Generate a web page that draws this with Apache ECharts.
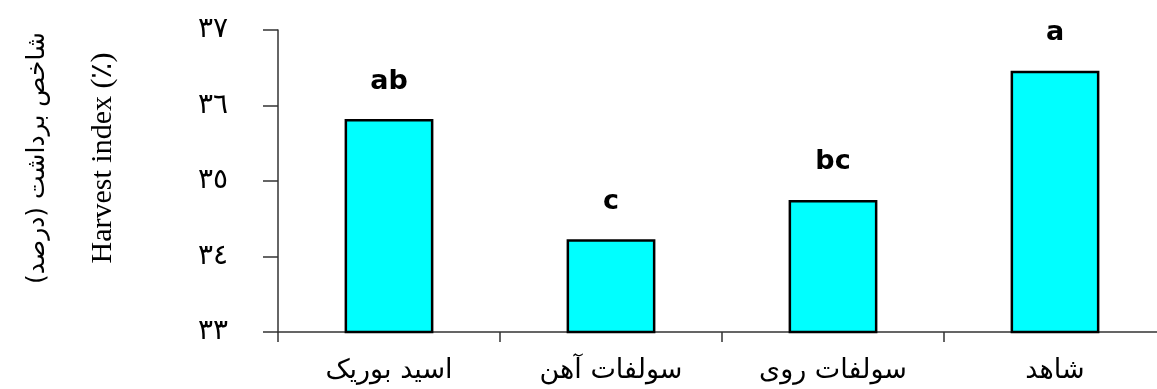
<!DOCTYPE html>
<html>
<head>
<meta charset="utf-8">
<script src="https://cdn.jsdelivr.net/npm/echarts@6/dist/echarts.min.js"></script>
<style>
  html, body { margin: 0; padding: 0; background: #fff; }
  #chart { width: 1157px; height: 389px; }
</style>
</head>
<body>
<div id="chart"></div>
<script>
// Treatments along the x axis
const categories = ['اسید بوریک', 'سولفات آهن', 'سولفات روی', 'شاهد'];
// Harvest index (%) per treatment
const harvestIndex = [35.82, 34.23, 34.75, 36.46];
// Mean-comparison letters shown above each bar
const groupLetters = ['ab', 'c', 'bc', 'a'];
// Value axis range
const yMin = 33, yMax = 37, yStep = 1;

const arabicDigits = '٠١٢٣٤٥٦٧٨٩';
const toArabic = v => String(v).replace(/\d/g, d => arabicDigits[d]);

const chart = echarts.init(document.getElementById('chart'), null, { renderer: 'canvas' });
chart.setOption({
  backgroundColor: '#ffffff',
  animation: false,
  // the plot runs past the right edge of the canvas, so the last category is cut short
  grid: { left: 278, top: 30, bottom: 57, width: 888, outerBoundsMode: 'none', containLabel: false },
  xAxis: {
    type: 'category',
    data: categories,
    axisLine: { lineStyle: { color: '#333', width: 1.5 } },
    axisTick: { show: true, length: 10, lineStyle: { color: '#333', width: 1.5 } },
    axisLabel: {
      color: '#000', fontFamily: 'DejaVu Sans', fontSize: 27, margin: 25
    }
  },
  yAxis: [
    {
      type: 'value', min: yMin, max: yMax, interval: yStep,
      name: 'Harvest index (٪)',
      nameLocation: 'middle', nameRotate: 90, nameGap: 160,
      nameTextStyle: {
        color: '#000', fontFamily: 'Liberation Serif', fontSize: 30,
        padding: [0, 0, 0, 46]
      },
      axisLine: { show: true, lineStyle: { color: '#333', width: 1.5 } },
      axisTick: { show: true, length: 15, lineStyle: { color: '#333', width: 1.5 } },
      splitLine: { show: false },
      axisLabel: {
        color: '#000', fontFamily: 'DejaVu Sans', fontSize: 28, margin: 50,
        verticalAlign: 'middle', padding: [0, 0, 20, 0],
        formatter: v => toArabic(v)
      }
    },
    {
      type: 'value', min: yMin, max: yMax, interval: yStep, position: 'left',
      name: 'شاخص برداشت (درصد)',
      nameLocation: 'middle', nameRotate: 90, nameGap: 228,
      nameTextStyle: {
        color: '#000', fontFamily: 'DejaVu Sans', fontSize: 25,
        padding: [0, 0, 0, 46]
      },
      axisLine: { show: false }, axisTick: { show: false },
      axisLabel: { show: false }, splitLine: { show: false }
    }
  ],
  series: [{
    type: 'bar',
    data: harvestIndex,
    barWidth: '40%',
    itemStyle: { color: '#00ffff', borderColor: '#000', borderWidth: 2.5 },
    label: {
      show: true, position: 'top', distance: 24,
      color: '#000', fontFamily: 'DejaVu Sans', fontWeight: 'bold', fontSize: 27,
      formatter: p => groupLetters[p.dataIndex]
    }
  }]
});
</script>
</body>
</html>
